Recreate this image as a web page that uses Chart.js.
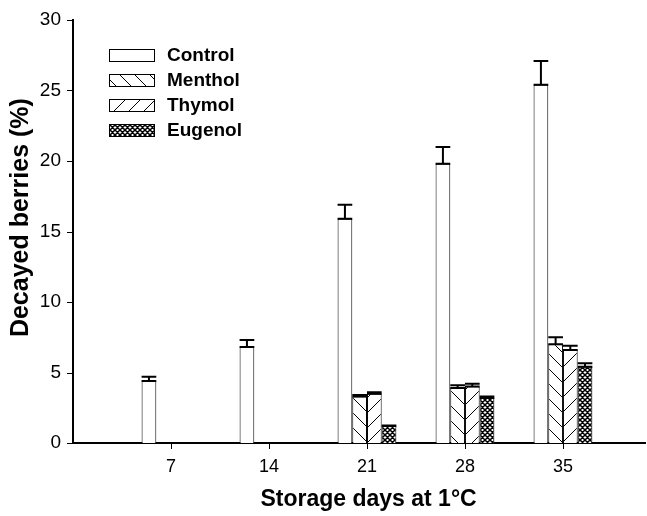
<!DOCTYPE html>
<html>
<head>
<meta charset="utf-8">
<script src="https://cdn.jsdelivr.net/npm/chart.js@4.4.1/dist/chart.umd.min.js"></script>
<style>
  html, body { margin: 0; padding: 0; background: #fff; }
  #wrap { width: 647px; height: 516px; }
</style>
</head>
<body>
<div id="wrap"><canvas id="c" width="647" height="516"></canvas></div>
<script>
// Storage days and decay percentages (mean and standard error)
const days = [7, 14, 21, 28, 35];
const treatedDays = [21, 28, 35];
const seriesNames = ['Control', 'Menthol', 'Thymol', 'Eugenol'];
const controlMean = [4.4, 6.8, 15.9, 19.8, 25.4];
const controlErr  = [0.3, 0.5, 1.0, 1.2, 1.7];
const mentholMean = [3.3, 3.9, 7.0];
const mentholErr  = [0.1, 0.2, 0.5];
const thymolMean  = [3.5, 4.0, 6.6];
const thymolErr   = [0.1, 0.2, 0.3];
const eugenolMean = [1.2, 3.2, 5.4];
const eugenolErr  = [0.05, 0.1, 0.25];
const yTickValues = [0, 5, 10, 15, 20, 25, 30];

const FONT = '"Liberation Sans", Arial, Helvetica, sans-serif';

// Fill patterns
function makePattern(size, lw, draw) {
  const c = document.createElement('canvas');
  c.width = size; c.height = size;
  const g = c.getContext('2d');
  g.fillStyle = '#fff';
  g.fillRect(0, 0, size, size);
  g.strokeStyle = '#000';
  g.lineWidth = lw;
  g.beginPath();
  draw(g, size);
  g.stroke();
  return document.createElement('canvas').getContext('2d').createPattern(c, 'repeat');
}
const backHatch = makePattern(15, 1, (g, s) => {
  for (const k of [-s, 0, s]) { g.moveTo(k - 1, -1); g.lineTo(k + s + 1, s + 1); }
});
const fwdHatch = makePattern(15, 1, (g, s) => {
  for (const k of [-s, 0, s]) { g.moveTo(k - 1, s + 1); g.lineTo(k + s + 1, -1); }
});
const crossHatch = makePattern(5, 1.5, (g, s) => {
  for (const k of [-s, 0, s]) {
    g.moveTo(k - 1, -1); g.lineTo(k + s + 1, s + 1);
    g.moveTo(k - 1, s + 1); g.lineTo(k + s + 1, -1);
  }
});

function points(xs, ys) { return xs.map((x, i) => ({ x: x, y: ys[i] })); }

const datasets = [
  { label: seriesNames[0], data: points(days, controlMean), errors: controlErr, backgroundColor: '#fff' },
  { label: seriesNames[1], data: points(treatedDays, mentholMean), errors: mentholErr, backgroundColor: backHatch },
  { label: seriesNames[2], data: points(treatedDays, thymolMean), errors: thymolErr, backgroundColor: fwdHatch },
  { label: seriesNames[3], data: points(treatedDays, eugenolMean), errors: eugenolErr, backgroundColor: crossHatch }
].map(d => Object.assign(d, {
  borderColor: '#000',
  borderWidth: 1,
  categoryPercentage: 0.6,
  barPercentage: 1.0
}));

// Upper error bars with caps spanning the bar width
const errorBars = {
  id: 'errorBars',
  afterDatasetsDraw(chart) {
    const ctx = chart.ctx;
    const y = chart.scales.y;
    ctx.save();
    ctx.strokeStyle = '#000';
    ctx.lineWidth = 2;
    chart.data.datasets.forEach((ds, di) => {
      const meta = chart.getDatasetMeta(di);
      meta.data.forEach((bar, i) => {
        const top = y.getPixelForValue(ds.data[i].y + ds.errors[i]);
        const half = bar.width / 2;
        ctx.beginPath();
        ctx.moveTo(bar.x, bar.y);
        ctx.lineTo(bar.x, top);
        ctx.moveTo(bar.x - half, top);
        ctx.lineTo(bar.x + half, top);
        ctx.moveTo(bar.x - half, bar.y);
        ctx.lineTo(bar.x + half, bar.y);
        ctx.stroke();
      });
    });
    ctx.restore();
  }
};

// Outward tick marks on both axes
const tickMarks = {
  id: 'tickMarks',
  afterDraw(chart) {
    const ctx = chart.ctx;
    const { x, y } = chart.scales;
    const area = chart.chartArea;
    ctx.save();
    ctx.strokeStyle = '#000';
    ctx.lineWidth = 1;
    ctx.beginPath();
    x.ticks.forEach(t => {
      const px = Math.round(x.getPixelForValue(t.value)) + 0.5;
      ctx.moveTo(px, area.bottom + 1);
      ctx.lineTo(px, area.bottom + 6);
    });
    y.ticks.forEach(t => {
      const py = Math.round(y.getPixelForValue(t.value)) + 0.5;
      ctx.moveTo(area.left - 1, py);
      ctx.lineTo(area.left - 6, py);
    });
    ctx.stroke();
    ctx.restore();
  }
};

// Legend block inside the plot area
const boxLegend = {
  id: 'boxLegend',
  afterDraw(chart) {
    const ctx = chart.ctx;
    ctx.save();
    chart.data.datasets.forEach((ds, i) => {
      const bx = 109, by = 49 + i * 25, bw = 45, bh = 12;
      ctx.fillStyle = ds.backgroundColor;
      ctx.fillRect(bx, by, bw, bh);
      ctx.strokeStyle = '#000';
      ctx.lineWidth = 1;
      ctx.strokeRect(bx + 0.5, by + 0.5, bw, bh);
      ctx.fillStyle = '#000';
      ctx.font = 'bold 19px ' + FONT;
      ctx.textBaseline = 'alphabetic';
      ctx.textAlign = 'left';
      ctx.fillText(ds.label, 167, by + 12);
    });
    ctx.restore();
  }
};

new Chart(document.getElementById('c'), {
  type: 'bar',
  data: { datasets: datasets },
  options: {
    responsive: false,
    devicePixelRatio: 1,
    animation: false,
    layout: { padding: { left: 0, right: 2, top: 20, bottom: 0 } },
    plugins: { legend: { display: false }, tooltip: { enabled: false } },
    scales: {
      x: {
        type: 'linear',
        min: 0,
        max: 40.86,
        offset: false,
        afterBuildTicks(scale) { scale.ticks = days.map(v => ({ value: v })); },
        afterFit(scale) { scale.height = 73; },
        ticks: { color: '#000', font: { family: FONT, size: 18 }, padding: 7, autoSkip: false, maxRotation: 0 },
        grid: { display: false, drawTicks: true, tickLength: 6 },
        border: { display: true, color: '#000', width: 2 },
        title: {
          display: true,
          text: '\u00A0\u00A0\u00A0Storage days at 1°C',
          color: '#000',
          font: { family: FONT, size: 23, weight: 'bold' },
          padding: { top: 0, bottom: 3 }
        }
      },
      y: {
        min: 0,
        max: 30,
        afterBuildTicks(scale) { scale.ticks = yTickValues.map(v => ({ value: v })); },
        afterFit(scale) { scale.width = 73; },
        ticks: { color: '#000', font: { family: FONT, size: 19 }, padding: 6 },
        grid: { display: false, drawTicks: true, tickLength: 6 },
        border: { display: true, color: '#000', width: 2 },
        title: {
          display: true,
          text: '\u00A0\u00A0\u00A0\u00A0Decayed berries (%)',
          color: '#000',
          font: { family: FONT, size: 25, weight: 'bold' },
          padding: { top: 6, bottom: 0 }
        }
      }
    }
  },
  plugins: [errorBars, tickMarks, boxLegend]
});
</script>
</body>
</html>
